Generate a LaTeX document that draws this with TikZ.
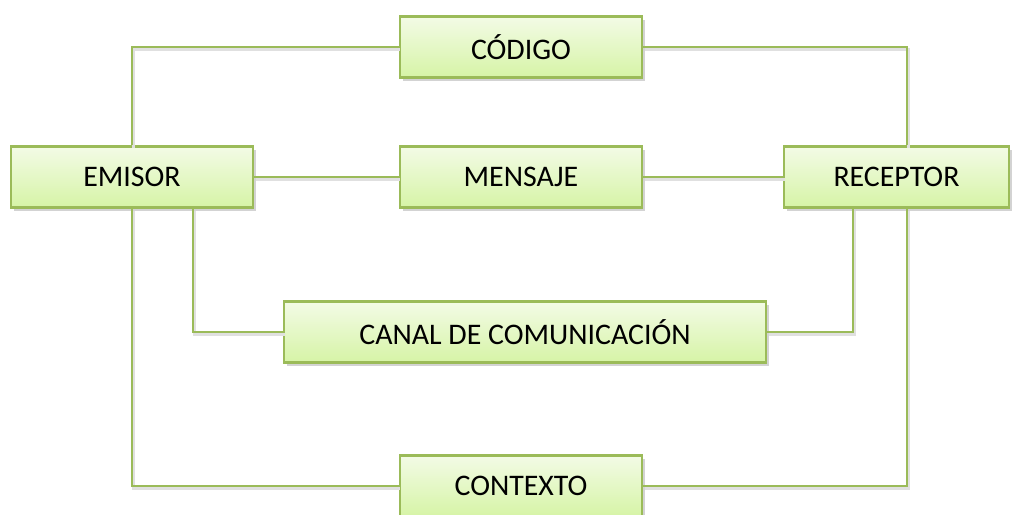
\documentclass[tikz,border=0pt]{standalone}
\usepackage{fontspec}
\setmainfont{Carlito}
\usepackage{tikz}
\usetikzlibrary{shadows}
\definecolor{olivo}{HTML}{9BBB59}
\definecolor{verdeclaro}{HTML}{F3FBE6}
\definecolor{verdefondo}{HTML}{D6F4A6}
\tikzstyle{caja} = [rectangle, draw=olivo, line width=1.4pt, top color=verdeclaro, bottom color=verdefondo, minimum width=4.85cm, minimum height=1.22cm, font=\fontsize{17}{20}\selectfont, drop shadow={shadow xshift=1.6pt, shadow yshift=-1.8pt, opacity=0.35}]
\tikzstyle{linea} = [draw=olivo, line width=1.3pt, preaction={draw=black!12, line width=1.6pt, transform canvas={xshift=1pt, yshift=-1.4pt}}]

\begin{document}
\begin{tikzpicture}[node distance=1.5cm]
		\useasboundingbox (0,0) rectangle (20.28,-10.3);
		\node (emisor) [caja] at (2.64,-3.54) {EMISOR};
		\node (mensaje) [caja, right of=emisor, xshift=6.28cm] {MENSAJE};
		\node (receptor) [caja, right of=mensaje, xshift=6.01cm, minimum width=4.5cm] {RECEPTOR};
		\node (codigo) [caja, above of=mensaje, yshift=1.1cm] {CÓDIGO};
		\node (canal) [caja, below of=mensaje, yshift=-1.6cm, xshift=0.08cm, minimum width=9.64cm] {CANAL DE COMUNICACIÓN};
		\node (contexto) [caja, below of=mensaje, yshift=-4.68cm] {CONTEXTO};
		\draw [linea] (emisor) -- (mensaje);
		\draw [linea] (mensaje) -- (receptor);
		\draw [linea] (emisor.north) |- (codigo.west);
		\draw [linea] (codigo.east) -| ([xshift=0.21cm]receptor.north);
		\draw [linea] ([xshift=1.22cm]emisor.south) |- (canal.west);
		\draw [linea] (canal.east) -| ([xshift=-0.87cm]receptor.south);
		\draw [linea] (emisor.south) |- (contexto.west);
		\draw [linea] (contexto.east) -| ([xshift=0.21cm]receptor.south);
\end{tikzpicture}
\end{document}
